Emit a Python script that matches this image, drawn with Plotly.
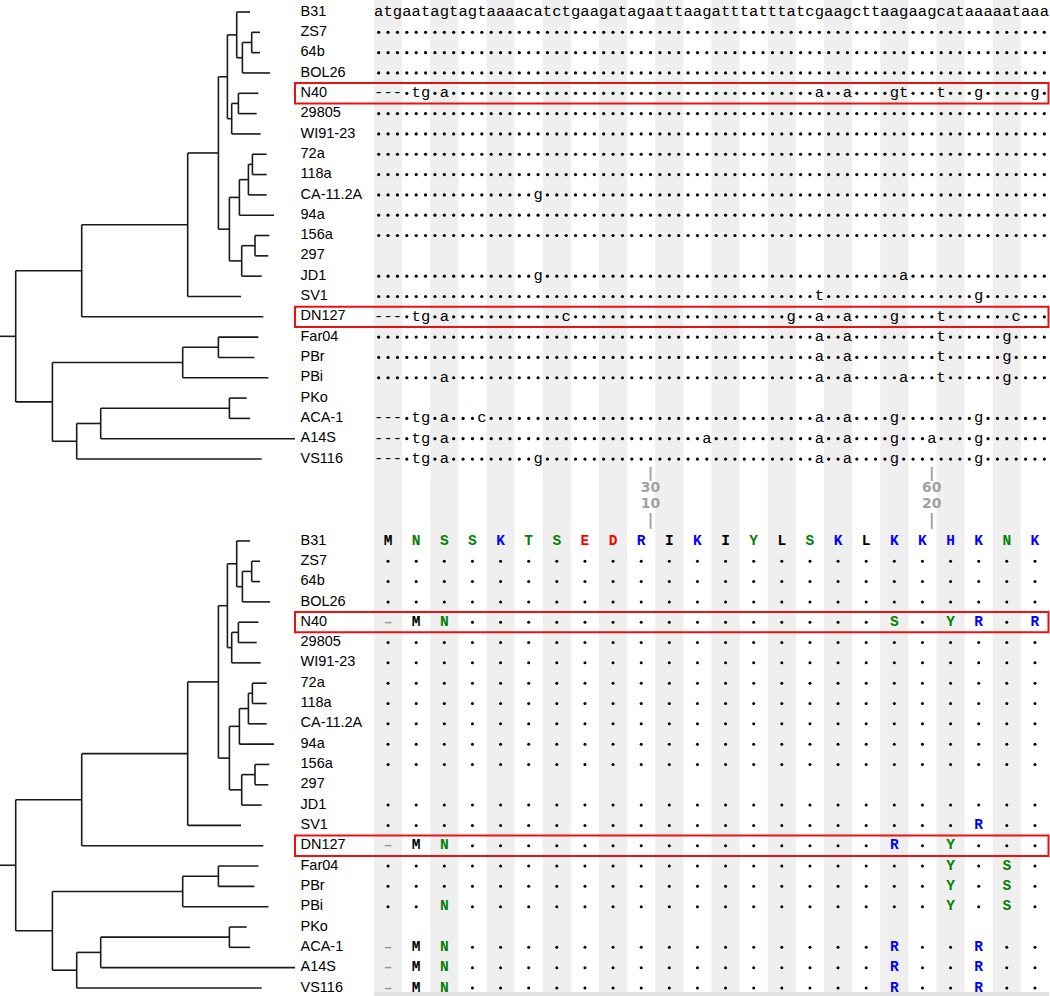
import plotly.graph_objects as go

# ---------------- data ----------------
strains = ["B31", "ZS7", "64b", "BOL26", "N40", "29805", "WI91-23", "72a", "118a",
           "CA-11.2A", "94a", "156a", "297", "JD1", "SV1", "DN127", "Far04", "PBr",
           "PBi", "PKo", "ACA-1", "A14S", "VS116"]
reference_strain = "B31"
reference_nt = "atgaatagtagtaaaacatctgaagatagaattaagatttatttatcgaagcttaagaagcataaaaataaa"
reference_aa = "MNSSKTSEDRIKIYLSKLKKHKNK"
missing_strains = ["297", "PKo"]
highlighted = ["N40", "DN127"]

# nucleotide differences from B31 (0-based position -> character)
nt_changes = {
    "N40":      {0: "-", 1: "-", 2: "-", 4: "t", 5: "g", 7: "a", 47: "a", 50: "a",
                 55: "g", 56: "t", 60: "t", 64: "g", 70: "g"},
    "CA-11.2A": {17: "g"},
    "JD1":      {17: "g", 56: "a"},
    "SV1":      {47: "t", 64: "g"},
    "DN127":    {0: "-", 1: "-", 2: "-", 4: "t", 5: "g", 7: "a", 20: "c", 44: "g",
                 47: "a", 50: "a", 55: "g", 60: "t", 68: "c"},
    "Far04":    {47: "a", 50: "a", 60: "t", 67: "g"},
    "PBr":      {47: "a", 50: "a", 60: "t", 67: "g"},
    "PBi":      {7: "a", 47: "a", 50: "a", 56: "a", 60: "t", 67: "g"},
    "ACA-1":    {0: "-", 1: "-", 2: "-", 4: "t", 5: "g", 7: "a", 11: "c", 47: "a",
                 50: "a", 55: "g", 64: "g"},
    "A14S":     {0: "-", 1: "-", 2: "-", 4: "t", 5: "g", 7: "a", 35: "a", 47: "a",
                 50: "a", 55: "g", 59: "a", 64: "g"},
    "VS116":    {0: "-", 1: "-", 2: "-", 4: "t", 5: "g", 7: "a", 17: "g", 47: "a",
                 50: "a", 55: "g", 64: "g"},
}

# amino-acid differences from B31 (0-based codon -> residue)
aa_changes = {
    "N40":   {0: "-", 1: "M", 2: "N", 18: "S", 20: "Y", 21: "R", 23: "R"},
    "SV1":   {21: "R"},
    "DN127": {0: "-", 1: "M", 2: "N", 18: "R", 20: "Y"},
    "Far04": {20: "Y", 22: "S"},
    "PBr":   {20: "Y", 22: "S"},
    "PBi":   {2: "N", 20: "Y", 22: "S"},
    "ACA-1": {0: "-", 1: "M", 2: "N", 18: "R", 21: "R"},
    "A14S":  {0: "-", 1: "M", 2: "N", 18: "R", 21: "R"},
    "VS116": {0: "-", 1: "M", 2: "N", 18: "R", 21: "R"},
}

ruler_nt = [30, 60]
ruler_aa = [10, 20]

# tree: (name, branch length, children)
tree = ("", 15.7, [
    ("", 66.0, [
        ("", 106.0, [
            ("", 30.7, [
                ("", 9.0, [
                    ("", 9.3, [
                        ("B31", 13.3),
                        ("", 5.7, [
                            ("", 9.3, [("ZS7", 8.3), ("64b", 8.3)]),
                            ("BOL26", 27.7),
                        ]),
                    ]),
                    ("", 4.3, [
                        ("", 6.7, [("N40", 20.0), ("29805", 18.3)]),
                        ("WI91-23", 29.0),
                    ]),
                ]),
                ("", 11.0, [
                    ("", 10.0, [
                        ("", 9.0, [
                            ("", 4.0, [("72a", 14.3), ("118a", 14.3)]),
                            ("CA-11.2A", 18.3),
                        ]),
                        ("94a", 34.7),
                    ]),
                    ("", 12.3, [
                        ("", 13.3, [("156a", 14.3), ("297", 13.3)]),
                        ("JD1", 20.0),
                    ]),
                ]),
            ]),
            ("SV1", 53.3),
        ]),
        ("DN127", 181.7),
    ]),
    ("", 36.7, [
        ("", 130.3, [
            ("", 35.7, [("Far04", 40.0), ("PBr", 36.0)]),
            ("PBi", 85.7),
        ]),
        ("", 24.3, [
            ("", 24.0, [
                ("", 128.7, [("PKo", 17.3), ("ACA-1", 20.7)]),
                ("A14S", 194.3),
            ]),
            ("VS116", 185.0),
        ]),
    ]),
])

# ---------------- layout constants ----------------
FIG_W, FIG_H = 1050, 996
ROW0_PX, ROW_PX = 12.0, 20.32
AA_OFFSET = 26.03
ALN_X0, ALN_X1 = 374.0, 1049.0
LABEL_X = 300.5
BOX_X0 = 295.0
N_NT = len(reference_nt)
N_AA = len(reference_aa)
BAND_COLOR = "#efefef"
MONO = "Liberation Mono, Courier New, monospace"
SANS = "Liberation Sans, Arial, sans-serif"
AA_COLORS = {"M": "#000000", "I": "#000000", "L": "#000000",
             "N": "#008000", "S": "#008000", "T": "#008000", "Y": "#008000",
             "K": "#0000ff", "R": "#0000ff", "H": "#0000ff",
             "E": "#ff0000", "D": "#ff0000", "-": "#999999"}

row_of = {s: i for i, s in enumerate(strains)}

fig = go.Figure()

# ---------------- tree ----------------
def layout_tree(node, x0, offset, xs, ys):
    name, length = node[0], node[1]
    children = node[2] if len(node) > 2 else None
    x1 = x0 + length
    if not children:
        y = row_of[name] + offset
    else:
        cy = [layout_tree(c, x1, offset, xs, ys) for c in children]
        y = (cy[0] + cy[-1]) / 2.0
        xs += [x1, x1, None]
        ys += [cy[0], cy[-1], None]
    xs += [x0, x1, None]
    ys += [y, y, None]
    return y

for offset in (0.0, AA_OFFSET):
    tx, ty = [], []
    layout_tree(tree, 0.0, offset, tx, ty)
    fig.add_trace(go.Scatter(x=tx, y=ty, mode="lines", xaxis="x", yaxis="y",
                             line=dict(color="#1a1a1a", width=1.6),
                             hoverinfo="skip", showlegend=False))
    fig.add_trace(go.Scatter(x=[LABEL_X] * len(strains),
                             y=[row_of[s] + offset for s in strains],
                             text=strains, mode="text", textposition="middle right",
                             textfont=dict(family=SANS, size=14.5, color="#000000"),
                             xaxis="x", yaxis="y", hoverinfo="skip", showlegend=False))

# ---------------- nucleotide alignment ----------------
let_x, let_y, let_t = [], [], []
dot_x, dot_y = [], []
for s in strains:
    if s in missing_strains:
        continue
    r = row_of[s]
    for i in range(N_NT):
        if s == reference_strain:
            ch = reference_nt[i]
        else:
            ch = nt_changes.get(s, {}).get(i, None)
        if ch is None:
            dot_x.append(i + 0.5); dot_y.append(r)
        else:
            let_x.append(i + 0.5); let_y.append(r); let_t.append(ch)

fig.add_trace(go.Scatter(x=let_x, y=let_y, text=let_t, mode="text",
                         textfont=dict(family=MONO, size=15.5, color="#000000"),
                         xaxis="x2", yaxis="y", hoverinfo="skip", showlegend=False))
fig.add_trace(go.Scatter(x=dot_x, y=dot_y, mode="markers",
                         marker=dict(symbol="circle", size=3.2, color="#000000", line=dict(width=0)),
                         xaxis="x2", yaxis="y", hoverinfo="skip", showlegend=False))

# ---------------- amino-acid alignment ----------------
aa_pts = {}
aa_dot_x, aa_dot_y = [], []
for s in strains:
    if s in missing_strains:
        continue
    r = row_of[s] + AA_OFFSET
    for k in range(N_AA):
        if s == reference_strain:
            ch = reference_aa[k]
        else:
            ch = aa_changes.get(s, {}).get(k, None)
        xk = 3 * k + 1.5
        if ch is None:
            aa_dot_x.append(xk); aa_dot_y.append(r)
        else:
            aa_pts.setdefault(AA_COLORS.get(ch, "#000000"), []).append((xk, r, "–" if ch == "-" else ch))

for color, pts in aa_pts.items():
    fig.add_trace(go.Scatter(x=[p[0] for p in pts], y=[p[1] for p in pts],
                             text=[p[2] for p in pts], mode="text",
                             textfont=dict(family=MONO, size=14.5, color=color, weight="bold"),
                             xaxis="x2", yaxis="y", hoverinfo="skip", showlegend=False))
fig.add_trace(go.Scatter(x=aa_dot_x, y=aa_dot_y, mode="markers",
                         marker=dict(symbol="circle", size=3, color="#000000", line=dict(width=0)),
                         xaxis="x2", yaxis="y", hoverinfo="skip", showlegend=False))

# ---------------- ruler ----------------
RUL_TOP = (22.39, 23.08)
RUL_BOT = (24.66, 25.44)
RUL_T1, RUL_T2 = 23.47, 24.26
rx, ry = [], []
for n in ruler_nt:
    xr = n - 0.5
    rx += [xr, xr, None, xr, xr, None]
    ry += [RUL_TOP[0], RUL_TOP[1], None, RUL_BOT[0], RUL_BOT[1], None]
fig.add_trace(go.Scatter(x=rx, y=ry, mode="lines", line=dict(color="#a6a6a6", width=2),
                         xaxis="x2", yaxis="y", hoverinfo="skip", showlegend=False))
fig.add_trace(go.Scatter(x=[n - 0.5 for n in ruler_nt] + [n - 0.5 for n in ruler_nt],
                         y=[RUL_T1] * len(ruler_nt) + [RUL_T2] * len(ruler_aa),
                         text=[str(n) for n in ruler_nt] + [str(a) for a in ruler_aa],
                         mode="text",
                         textfont=dict(family="DejaVu Sans, Verdana, sans-serif", size=14,
                                       color="#a0a0a0", weight="bold"),
                         xaxis="x2", yaxis="y", hoverinfo="skip", showlegend=False))

# ---------------- shapes: codon bands and highlight boxes ----------------
shapes = []
for k in range(0, N_AA, 2):
    shapes.append(dict(type="rect", xref="x2", yref="paper", x0=3 * k, x1=3 * k + 3,
                       y0=0, y1=1, fillcolor=BAND_COLOR, line=dict(width=0), layer="below"))
shapes.append(dict(type="rect", xref="x2", yref="paper", x0=0, x1=N_NT,
                   y0=0, y1=4.0 / FIG_H, fillcolor="#e2e2e2", line=dict(width=0), layer="below"))
for offset in (0.0, AA_OFFSET):
    for s in highlighted:
        r = row_of[s] + offset
        shapes.append(dict(type="rect", xref="x", yref="y", x0=BOX_X0, x1=ALN_X1 - 0.5,
                           y0=r - 0.5, y1=r + 0.5, line=dict(color="#ee1111", width=2),
                           fillcolor="rgba(0,0,0,0)", layer="above"))

y_top = -ROW0_PX / ROW_PX
y_bot = (FIG_H - ROW0_PX) / ROW_PX

fig.update_layout(
    width=FIG_W, height=FIG_H,
    margin=dict(l=0, r=0, t=0, b=0),
    paper_bgcolor="white", plot_bgcolor="rgba(0,0,0,0)",
    showlegend=False,
    shapes=shapes,
    xaxis=dict(domain=[0, 1], range=[0, FIG_W], visible=False, fixedrange=True),
    xaxis2=dict(domain=[ALN_X0 / FIG_W, ALN_X1 / FIG_W], range=[0, N_NT],
                anchor="y", visible=False, fixedrange=True),
    yaxis=dict(domain=[0, 1], range=[y_bot, y_top], visible=False, fixedrange=True),
)

fig.write_html("out.html", config={"displayModeBar": False},
               post_script="document.body.style.margin='0';document.body.style.overflow='hidden';")
